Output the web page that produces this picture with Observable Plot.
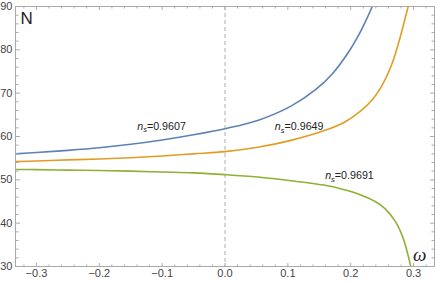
<!DOCTYPE html>
<html>
<head>
<meta charset="utf-8">
<script src="https://cdn.jsdelivr.net/npm/d3@7"></script>
<script src="https://cdn.jsdelivr.net/npm/@observablehq/plot@0.6"></script>
<style>
  html, body { margin: 0; padding: 0; background: white; }
</style>
</head>
<body>
<div id="chart"></div>
<script>
// ---- data ----
const blueOmega = [-0.334, -0.3, -0.25, -0.2, -0.15, -0.1, -0.05, 0, 0.052, 0.105, 0.144, 0.171, 0.198, 0.213, 0.223, 0.231, 0.2365];
const blueN     = [56.0, 56.3, 56.8, 57.4, 58.2, 59.2, 60.4, 61.8, 63.7, 67.0, 70.8, 74.5, 79.8, 83.5, 86.4, 88.9, 90.8];

const orangeOmega = [-0.334, -0.3, -0.25, -0.2, -0.15, -0.1, -0.05, 0, 0.052, 0.105, 0.157, 0.19, 0.215, 0.235, 0.250, 0.265, 0.276, 0.284, 0.2915];
const orangeN     = [54.2, 54.35, 54.6, 54.8, 55.1, 55.5, 56.0, 56.5, 57.5, 59.1, 61.3, 63.3, 65.8, 68.6, 71.8, 76.5, 81.5, 85.8, 90.0];

const greenOmega = [-0.334, -0.3, -0.25, -0.2, -0.15, -0.1, -0.05, 0, 0.052, 0.105, 0.157, 0.187, 0.213, 0.239, 0.255, 0.271, 0.284, 0.2955];
const greenN     = [52.4, 52.35, 52.25, 52.15, 52.0, 51.8, 51.6, 51.2, 50.65, 49.8, 48.8, 47.85, 46.7, 45.0, 43.3, 40.4, 36.3, 30.0];

const labelValues = ["0.9607", "0.9649", "0.9691"];
const labelOmega  = [-0.101, 0.118, 0.198];
const labelN      = [62.3, 62.2, 50.9];

const xMajor = [-0.3, -0.2, -0.1, 0, 0.1, 0.2, 0.3];
const xMinor = [-0.32, -0.28, -0.26, -0.24, -0.22, -0.18, -0.16, -0.14, -0.12, -0.08, -0.06, -0.04, -0.02,
                0.02, 0.04, 0.06, 0.08, 0.12, 0.14, 0.16, 0.18, 0.22, 0.24, 0.26, 0.28, 0.32];
const yMajor = [30, 40, 50, 60, 70, 80, 90];
const yMinor = [32, 34, 36, 38, 42, 44, 46, 48, 52, 54, 56, 58, 62, 64, 66, 68, 72, 74, 76, 78, 82, 84, 86, 88];

const colors = {blue: "#5E81B5", orange: "#E19C24", green: "#8FB032"};
const frameColor = "#aaaaaa";

const toRows = (ws, ns) => ws.map((w, i) => ({omega: w, N: ns[i]}));
const labels = labelValues.map((v, i) => ({omega: labelOmega[i], N: labelN[i], text: "ns=" + v}));

const lineOpts = (c) => ({x: "omega", y: "N", stroke: c, strokeWidth: 1.6, curve: "catmull-rom", clip: true});
const fmtX = (d) => d3.format(".1f")(d);

const tickMarks = [];
// inward ticks: axis anchored on opposite side so ticks point into the plot
for (const [ticks, size] of [[xMajor, 4], [xMinor, 2.5]]) {
  tickMarks.push(Plot.axisX(ticks, {anchor: "top", frameAnchor: "bottom", tickSize: size, tickFormat: () => "", stroke: frameColor, label: null}));
  tickMarks.push(Plot.axisX(ticks, {anchor: "bottom", frameAnchor: "top", tickSize: size, tickFormat: () => "", stroke: frameColor, label: null}));
}
for (const [ticks, size] of [[yMajor, 4], [yMinor, 2.5]]) {
  tickMarks.push(Plot.axisY(ticks, {anchor: "right", frameAnchor: "left", tickSize: size, tickFormat: () => "", stroke: frameColor, label: null}));
  tickMarks.push(Plot.axisY(ticks, {anchor: "left", frameAnchor: "right", tickSize: size, tickFormat: () => "", stroke: frameColor, label: null}));
}

const chart = Plot.plot({
  width: 436,
  height: 282,
  marginLeft: 15,
  marginRight: 2,
  marginTop: 6,
  marginBottom: 16,
  x: {domain: [-1/3, 1/3]},
  y: {domain: [30, 90]},
  style: {fontFamily: "Liberation Sans, Arial, sans-serif", fontSize: "11px", color: "#444", background: "white", overflow: "visible"},
  marks: [
    Plot.ruleX([0], {stroke: "#b0b0b0", strokeDasharray: "4,3", strokeWidth: 1}),
    Plot.line(toRows(blueOmega, blueN), lineOpts(colors.blue)),
    Plot.line(toRows(orangeOmega, orangeN), lineOpts(colors.orange)),
    Plot.line(toRows(greenOmega, greenN), lineOpts(colors.green)),
    Plot.text(labels, {x: "omega", y: "N", text: "text", fontSize: 10.7, fill: "#222", textAnchor: "middle"}),
    Plot.frame({stroke: frameColor}),
    ...tickMarks,
    Plot.axisX(xMajor, {anchor: "bottom", tickSize: 0, tickPadding: 3, tickFormat: fmtX, label: null, fill: "#444"}),
    Plot.axisY(yMajor, {anchor: "left", tickSize: 0, tickPadding: 3, label: null, fill: "#444"}),
    Plot.text(["N"], {frameAnchor: "top-left", dx: 5, dy: 5, lineAnchor: "top", textAnchor: "start", fontSize: 17, fill: "#222"}),
    Plot.text(["ω"], {frameAnchor: "bottom-right", dx: -8, dy: -6, lineAnchor: "bottom", textAnchor: "end", fontSize: 19, fontStyle: "italic", fontFamily: "Liberation Serif, serif", fill: "#222"})
  ]
});

// subscript formatting for n_s labels
chart.querySelectorAll("text").forEach((t) => {
  const s = t.textContent;
  if (s.startsWith("ns=")) {
    const rest = s.slice(2);
    t.textContent = "";
    const ns = "http://www.w3.org/2000/svg";
    const a = document.createElementNS(ns, "tspan");
    a.setAttribute("font-style", "italic");
    a.textContent = "n";
    const b = document.createElementNS(ns, "tspan");
    b.setAttribute("font-style", "italic");
    b.setAttribute("font-size", "7.5");
    b.setAttribute("dy", "2.5");
    b.textContent = "s";
    const c = document.createElementNS(ns, "tspan");
    c.setAttribute("dy", "-2.5");
    c.textContent = rest;
    t.append(a, b, c);
  }
});

document.getElementById("chart").append(chart);
</script>
</body>
</html>
